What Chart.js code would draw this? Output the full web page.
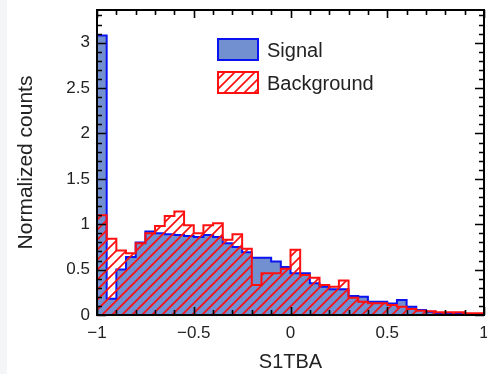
<!DOCTYPE html>
<html>
<head>
<meta charset="utf-8">
<script src="https://cdn.jsdelivr.net/npm/chart.js@4/dist/chart.umd.min.js"></script>
<style>
  body { margin: 0; background: #f4f5f7; overflow: hidden; }
  .wrap { position: absolute; left: 7px; top: 0; width: 480px; height: 374px; background: #fff; overflow: hidden; }
  canvas { display: block; }
</style>
</head>
<body>
<div class="wrap"><canvas id="histo" width="493" height="374"></canvas></div>
<script>
// histogram bins: 40 bins of 0.05 from -1 to 1
var xLow = -1;
var binWidth = 0.05;

var signal = [
  3.08, 0.18, 0.50, 0.64, 0.80, 0.92, 0.90, 0.89, 0.88, 0.87,
  0.86, 0.88, 0.86, 0.79, 0.75, 0.69, 0.63, 0.63, 0.59, 0.53,
  0.46, 0.46, 0.35, 0.31, 0.285, 0.285, 0.21, 0.20, 0.146, 0.146,
  0.128, 0.165, 0.09, 0.055, 0.037, 0.02, 0.012, 0.01, 0.008, 0.005
];
var background = [
  1.10, 0.84, 0.71, 0.68, 0.79, 0.90, 0.98, 1.09, 1.14, 0.99,
  0.90, 0.99, 1.01, 0.83, 0.89, 0.73, 0.33, 0.46, 0.46, 0.51,
  0.72, 0.44, 0.41, 0.33, 0.31, 0.38, 0.19, 0.146, 0.13, 0.13,
  0.11, 0.09, 0.066, 0.047, 0.04, 0.03, 0.03, 0.03, 0.02, 0.02
];
var seriesNames = ['Signal', 'Background'];
var xTicks = [-1, -0.5, 0, 0.5, 1];
var yTicks = [0, 0.5, 1, 1.5, 2, 2.5, 3];

var blueLine = '#0a14f0';
var blueFill = 'rgb(114,143,207)';
var redLine = '#ff1010';
var textColor = '#222';
var fontFamily = '"Liberation Sans", Arial, Helvetica, sans-serif';

// step points: left edge of every bin + closing edge at the end
function toSteps(values) {
  var pts = values.map(function(v, i) {
    return { x: xLow + i * binWidth, y: v };
  });
  pts.push({ x: xLow + values.length * binWidth, y: values[values.length - 1] });
  return pts;
}

function makeHatch(color) {
  var s = 10;
  var p = document.createElement('canvas');
  p.width = s; p.height = s;
  var c = p.getContext('2d');
  c.strokeStyle = color;
  c.lineWidth = 1.7;
  c.beginPath();
  c.moveTo(-1, s + 1); c.lineTo(s + 1, -1);
  c.moveTo(-s / 2 - 1, s / 2 + 1); c.lineTo(s / 2 + 1, -s / 2 - 1);
  c.moveTo(s / 2 - 1, s * 1.5 + 1); c.lineTo(s * 1.5 + 1, s / 2 - 1);
  c.stroke();
  return c.createPattern(p, 'repeat');
}
var hatch = makeHatch(redLine);

function fmt(v) {
  if (v < 0) return '\u2212' + Math.abs(v);
  return String(v);
}

// frame with inward ticks on all four sides, drawn over the bars
var frameTicks = {
  id: 'frameTicks',
  afterDatasetsDraw: function(chart) {
    var ctx = chart.ctx, a = chart.chartArea;
    var xs = chart.scales.x, ys = chart.scales.y;
    ctx.save();
    ctx.strokeStyle = '#000';
    ctx.lineWidth = 1.6;
    ctx.beginPath();
    var i, v, px, len;
    for (i = 0; i <= 20; i++) {
      v = xs.min + i * 0.1;
      px = Math.round(xs.getPixelForValue(v)) + 0.5;
      len = (i % 5 === 0) ? 8 : 5;
      ctx.moveTo(px, a.bottom); ctx.lineTo(px, a.bottom - len);
      ctx.moveTo(px, a.top); ctx.lineTo(px, a.top + len);
    }
    for (i = 0; i <= 33; i++) {
      v = i * 0.1;
      px = Math.round(ys.getPixelForValue(v)) + 0.5;
      len = (i % 5 === 0) ? 9 : 5;
      ctx.moveTo(a.left, px); ctx.lineTo(a.left + len, px);
      ctx.moveTo(a.right, px); ctx.lineTo(a.right - len, px);
    }
    ctx.stroke();
    ctx.lineWidth = 2;
    ctx.strokeRect(a.left, a.top, a.right - a.left, a.bottom - a.top);
    ctx.restore();
  }
};

// legend boxes inside the plot
var boxLegend = {
  id: 'boxLegend',
  afterDraw: function(chart) {
    var ctx = chart.ctx, a = chart.chartArea;
    var x0 = a.left + 121, y0 = a.top + 29;
    ctx.save();
    ctx.font = '20px ' + fontFamily;
    ctx.textBaseline = 'middle';
    chart.data.datasets.forEach(function(ds, i) {
      var y = y0 + i * 33;
      ctx.fillStyle = '#fff';
      ctx.fillRect(x0, y, 40, 21);
      ctx.fillStyle = ds.backgroundColor;
      ctx.fillRect(x0, y, 40, 21);
      ctx.strokeStyle = ds.borderColor;
      ctx.lineWidth = 2;
      ctx.strokeRect(x0, y, 40, 21);
      ctx.fillStyle = textColor;
      ctx.fillText(ds.label, x0 + 49, y + 12);
    });
    ctx.restore();
  }
};

new Chart(document.getElementById('histo'), {
  type: 'line',
  data: {
    datasets: [
      {
        label: seriesNames[0],
        data: toSteps(signal),
        stepped: 'before',
        borderColor: blueLine,
        backgroundColor: blueFill,
        borderWidth: 2,
        pointRadius: 0,
        fill: 'origin',
        order: 2
      },
      {
        label: seriesNames[1],
        data: toSteps(background),
        stepped: 'before',
        borderColor: redLine,
        backgroundColor: hatch,
        borderWidth: 2,
        pointRadius: 0,
        fill: 'origin',
        order: 1
      }
    ]
  },
  options: {
    responsive: false,
    animation: false,
    layout: { padding: { left: 0, right: 16, top: 10, bottom: 0 } },
    plugins: { legend: { display: false }, tooltip: { enabled: false } },
    scales: {
      x: {
        type: 'linear',
        min: -1,
        max: 1,
        afterBuildTicks: function(s) { s.ticks = xTicks.map(function(v) { return { value: v }; }); },
        afterFit: function(s) { s.height = 59; s.paddingLeft = 0; s.paddingRight = 0; },
        grid: { display: false, drawTicks: false },
        border: { display: false },
        ticks: {
          padding: 8,
          color: textColor,
          font: { family: fontFamily, size: 17 },
          maxRotation: 0,
          callback: function(v) { return fmt(v); }
        },
        title: {
          display: true,
          text: 'S1TBA',
          color: textColor,
          font: { family: fontFamily, size: 20 },
          padding: { top: 0, bottom: 0 }
        }
      },
      y: {
        min: 0,
        max: 3.36,
        afterBuildTicks: function(s) { s.ticks = yTicks.map(function(v) { return { value: v }; }); },
        afterFit: function(s) { s.width = 90; s.paddingTop = 0; s.paddingBottom = 0; },
        grid: { display: false, drawTicks: false },
        border: { display: false },
        ticks: {
          padding: 7,
          color: textColor,
          font: { family: fontFamily, size: 17 },
          callback: function(v) { return fmt(v); }
        },
        title: {
          display: true,
          text: 'Normalized counts',
          color: textColor,
          font: { family: fontFamily, size: 21 },
          padding: { top: 7, bottom: 0 }
        }
      }
    }
  },
  plugins: [frameTicks, boxLegend]
});
</script>
</body>
</html>
